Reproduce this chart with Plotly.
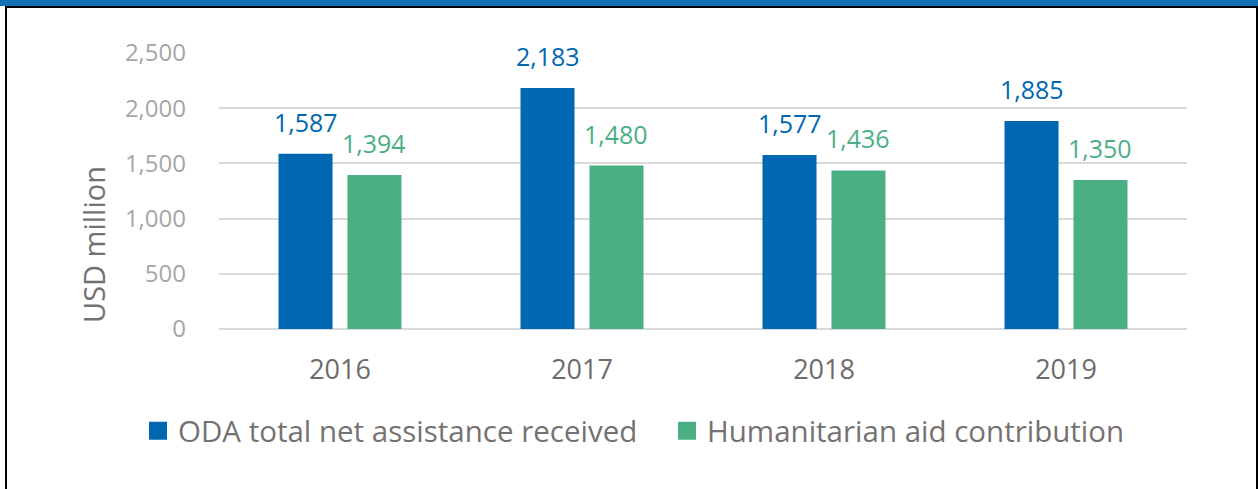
import plotly.graph_objects as go

years = ["2016", "2017", "2018", "2019"]
oda_total = [1587, 2183, 1577, 1885]
humanitarian = [1394, 1480, 1436, 1350]
series_names = ["ODA total net assistance received", "Humanitarian aid contribution"]
y_ticks = [0, 500, 1000, 1500, 2000, 2500]

BLUE = "#0067B1"
GREEN = "#4BAF84"
FONT = "Open Sans"

W, H = 1258, 489
L, R, T, B = 219, 71, 53, 160
plot_w = W - L - R
plot_h = H - T - B

BARGAP = 0.43
GROUPGAP = 0.217
slot_px = plot_w / len(years) * (1 - BARGAP) / 2

fig = go.Figure()
for name, vals, col in [(series_names[0], oda_total, BLUE), (series_names[1], humanitarian, GREEN)]:
    fig.add_trace(go.Bar(x=years, y=vals, name=name, marker=dict(color=col, line_width=0),
                         showlegend=False, hoverinfo="skip"))
    # legend proxies with larger square swatches
    fig.add_trace(go.Scatter(x=[years[0]], y=[None], mode="markers", name=name,
                             hoverinfo="skip",
                             marker=dict(symbol="square", size=16, color=col,
                                         line=dict(color=col, width=2))))

# value labels above each bar (x given as category index)
for i, (vals, col) in enumerate([(oda_total, BLUE), (humanitarian, GREEN)]):
    shift = (-0.5 if i == 0 else 0.5) * slot_px
    for k, v in enumerate(vals):
        fig.add_annotation(x=k, y=v, text=f"{v:,}", showarrow=False, xshift=shift,
                           yanchor="bottom", yshift=13,
                           font=dict(family=FONT, size=25, color=col))


def px_x(p):
    return (p - L) / plot_w


def px_y(p):
    return (H - B - p) / plot_h


# axis title placed to the left of the tick labels
fig.add_annotation(xref="paper", yref="paper", x=px_x(93), y=px_y(244),
                   text="USD million", textangle=-90, showarrow=False,
                   xanchor="center", yanchor="middle",
                   font=dict(family=FONT, size=29, color="#767171"))

shapes = [
    dict(type="rect", xref="paper", yref="paper", x0=px_x(0), x1=px_x(W), y0=px_y(0), y1=px_y(6),
         fillcolor="#1170B6", line_width=0, layer="above"),
    dict(type="line", xref="paper", yref="paper", x0=px_x(5), x1=px_x(W), y0=px_y(7), y1=px_y(7),
         line=dict(color="black", width=2)),
    dict(type="line", xref="paper", yref="paper", x0=px_x(6), x1=px_x(6), y0=px_y(6), y1=px_y(H),
         line=dict(color="black", width=2)),
    dict(type="line", xref="paper", yref="paper", x0=px_x(1257), x1=px_x(1257), y0=px_y(6), y1=px_y(H),
         line=dict(color="black", width=2)),
]

fig.update_layout(
    width=W, height=H,
    margin=dict(l=L, r=R, t=T, b=B, autoexpand=False),
    paper_bgcolor="white", plot_bgcolor="white",
    barmode="group", bargap=BARGAP, bargroupgap=GROUPGAP,
    font=dict(family=FONT, color="#767171"),
    shapes=shapes,
    showlegend=True,
    legend=dict(orientation="h", xanchor="left", yanchor="middle",
                x=px_x(138), y=px_y(431),
                font=dict(family=FONT, size=29.5, color="#767171"),
                itemsizing="trace", entrywidth=484, entrywidthmode="pixels",
                bgcolor="rgba(0,0,0,0)"),
    xaxis=dict(type="category", categoryarray=years, range=[-0.5, len(years) - 0.5],
               showgrid=False, showline=False, zeroline=False, ticks="",
               tickfont=dict(family=FONT, size=27, color="#6E6B6B"),
               ticklabelstandoff=22),
    yaxis=dict(range=[0, 2500], tickvals=y_ticks, tickformat=",d",
               showgrid=True, gridcolor="#D9D9D9", gridwidth=2,
               zeroline=True, zerolinecolor="#D9D9D9", zerolinewidth=2,
               showline=False, ticks="",
               tickfont=dict(family=FONT, size=24, color="#A6A6A6"),
               ticklabelstandoff=32),
)

fig.write_html("out.html")
